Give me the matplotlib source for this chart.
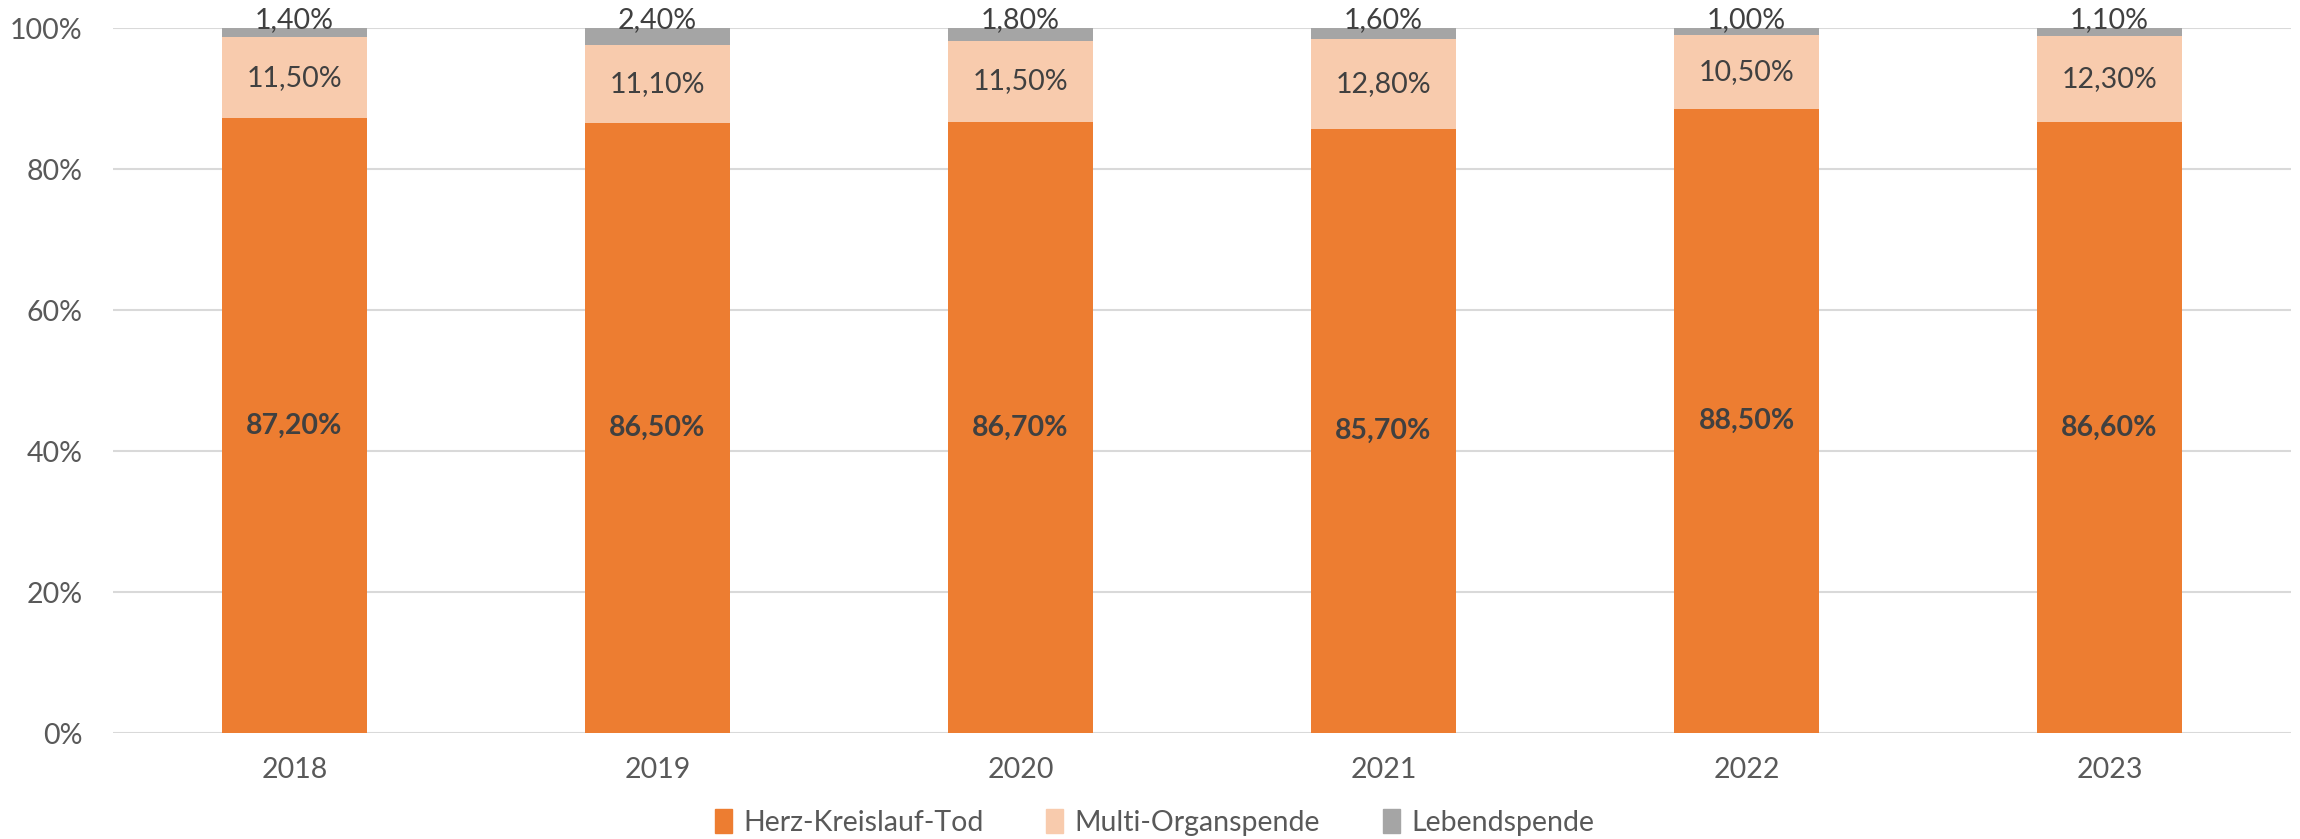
import numpy as np
import matplotlib
matplotlib.use("Agg")
import matplotlib.pyplot as plt
from matplotlib.patches import Patch

plt.rcParams["font.family"] = ["Lato", "DejaVu Sans"]

# --- data (percent) ---
years = ["2018", "2019", "2020", "2021", "2022", "2023"]
herz = [87.2, 86.5, 86.7, 85.7, 88.5, 86.6]
multi = [11.5, 11.1, 11.5, 12.8, 10.5, 12.3]
lebend = [1.4, 2.4, 1.8, 1.6, 1.0, 1.1]
series_names = ["Herz-Kreislauf-Tod", "Multi-Organspende", "Lebendspende"]
y_ticks = [0, 20, 40, 60, 80, 100]

COLORS = ["#ED7D31", "#F8CBAD", "#A5A5A5"]
TXT = "#404040"
TICK = "#595959"


def fmt(v):
    return f"{v:.2f}".replace(".", ",") + "%"


fig = plt.figure(figsize=(23, 8.39), dpi=100)
ax = fig.add_axes([0.0491, 0.1263, 0.9470, 0.8403])

x = np.arange(len(years))
w = 0.4
herz = np.array(herz)
multi = np.array(multi)
lebend = np.array(lebend)

ax.bar(x, herz, w, color=COLORS[0], zorder=2)
ax.bar(x, multi, w, bottom=herz, color=COLORS[1], zorder=2)
ax.bar(x, lebend, w, bottom=herz + multi, color=COLORS[2], zorder=2)

fs = 20.5
for i in range(len(years)):
    ax.text(x[i], herz[i] / 2, fmt(herz[i]), ha="center", va="center",
            fontsize=fs, fontweight="bold", color=TXT, zorder=3)
    ax.text(x[i], herz[i] + multi[i] / 2, fmt(multi[i]), ha="center",
            va="center", fontsize=fs, color=TXT, zorder=3)
    top = min(herz[i] + multi[i] + lebend[i], 100)
    ax.annotate(fmt(lebend[i]), (x[i], top), xytext=(0, 6),
                textcoords="offset points", ha="center", va="center",
                fontsize=fs, color=TXT, zorder=3, annotation_clip=False)

ax.set_ylim(0, 100)
ax.set_xlim(-0.5, len(years) - 0.5)
ax.set_yticks(y_ticks)
ax.set_yticklabels([f"{t}%" for t in y_ticks])
ax.set_xticks(x)
ax.set_xticklabels(years)
ax.tick_params(axis="y", length=0, pad=22, labelsize=fs, labelcolor=TICK)
ax.tick_params(axis="x", length=0, pad=17, labelsize=fs, labelcolor=TICK)
for s in ax.spines.values():
    s.set_visible(False)
ax.grid(axis="y", color="#D9D9D9", linewidth=1.5, zorder=0)
ax.set_axisbelow(True)

handles = [Patch(color=c, label=n) for c, n in zip(COLORS, series_names)]
fig.legend(handles=handles, loc="center", bbox_to_anchor=(0.502, 0.02),
           ncol=3, frameon=False, fontsize=fs, labelcolor=TICK,
           handlelength=0.6, handleheight=0.9, handletextpad=0.4,
           columnspacing=2.2)

fig.savefig("out.png", dpi=100)
